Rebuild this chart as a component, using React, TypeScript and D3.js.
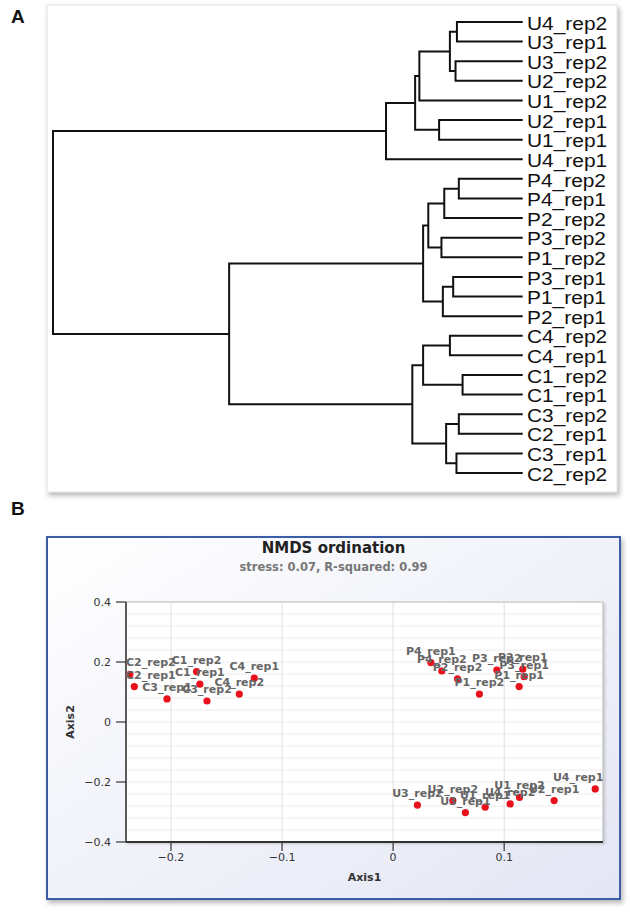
import React from "react";
import * as d3 from "d3";

// ---------- Panel A: hierarchical clustering ----------
const leafOrder = [
  "U4_rep2", "U3_rep1", "U3_rep2", "U2_rep2", "U1_rep2", "U2_rep1", "U1_rep1", "U4_rep1",
  "P4_rep2", "P4_rep1", "P2_rep2", "P3_rep2", "P1_rep2", "P3_rep1", "P1_rep1", "P2_rep1",
  "C4_rep2", "C4_rep1", "C1_rep2", "C1_rep1", "C3_rep2", "C2_rep1", "C3_rep1", "C2_rep2",
];

const mergeIds = ["u1", "u2", "u3", "u4", "u5", "u6", "U", "p1", "p2", "p3", "p4", "p5", "p6", "P", "c1", "c2", "c3", "c4", "c5", "c6", "C", "PC", "root"];
const mergeLeft = ["U4_rep2", "U3_rep2", "u1", "u3", "U2_rep1", "u4", "u6", "P4_rep2", "p1", "P3_rep2", "p2", "P3_rep1", "p5", "p4", "C4_rep2", "C1_rep2", "c1", "C3_rep2", "C3_rep1", "c4", "c3", "P", "U"];
const mergeRight = ["U3_rep1", "U2_rep2", "u2", "U1_rep2", "U1_rep1", "u5", "U4_rep1", "P4_rep1", "P2_rep2", "P1_rep2", "p3", "P1_rep1", "P2_rep1", "p6", "C4_rep1", "C1_rep1", "c2", "C2_rep1", "C2_rep2", "c5", "c6", "C", "PC"];
const mergeHeight = [0.140, 0.143, 0.155, 0.220, 0.178, 0.229, 0.291, 0.136, 0.167, 0.173, 0.201, 0.148, 0.170, 0.212, 0.155, 0.128, 0.212, 0.136, 0.141, 0.163, 0.235, 0.625, 1.0];

// ---------- Panel B: NMDS ordination ----------
const sampleNames = [
  "C2_rep2", "C2_rep1", "C3_rep1", "C1_rep2", "C1_rep1", "C3_rep2", "C4_rep2", "C4_rep1",
  "P4_rep1", "P4_rep2", "P2_rep2", "P1_rep2", "P3_rep2", "P2_rep1", "P3_rep1", "P1_rep1",
  "U3_rep2", "U2_rep2", "U3_rep1", "U1_rep1", "U4_rep2", "U1_rep2", "U2_rep1", "U4_rep1",
];
const axis1 = [
  -0.237, -0.233, -0.2036, -0.177, -0.174, -0.1676, -0.1385, -0.125,
  0.034, 0.0439, 0.058, 0.0777, 0.0934, 0.1168, 0.118, 0.1135,
  0.0219, 0.0538, 0.0651, 0.0829, 0.1054, 0.1138, 0.145, 0.182,
];
const axis2 = [
  0.159, 0.118, 0.077, 0.168, 0.126, 0.070, 0.093, 0.146,
  0.198, 0.170, 0.144, 0.093, 0.173, 0.176, 0.151, 0.118,
  -0.277, -0.262, -0.302, -0.284, -0.273, -0.251, -0.262, -0.223,
];
const xTicks = [-0.2, -0.1, 0, 0.1];
const yTicks = [0.4, 0.2, 0, -0.2, -0.4];
const titleText = "NMDS ordination";
const subtitleText = "stress: 0.07, R-squared: 0.99";

type TNode = { name: string; height: number; children?: TNode[] };

function buildTree(): TNode {
  const map: Record<string, TNode> = {};
  leafOrder.forEach((n) => (map[n] = { name: n, height: 0 }));
  mergeIds.forEach((id, i) => {
    map[id] = { name: id, height: mergeHeight[i], children: [map[mergeLeft[i]], map[mergeRight[i]]] };
  });
  return map["root"];
}

const Dendrogram: React.FC = () => {
  const root = d3.hierarchy<TNode>(buildTree());
  const yLeaf = d3.scalePoint<string>().domain(leafOrder).range([22, 473]);
  const xH = d3.scaleLinear().domain([0, 1]).range([522.7, 53]);
  const py = new Map<any, number>();
  root.eachAfter((n) => {
    py.set(n, n.children ? (d3.mean(n.children, (c) => py.get(c)!) as number) : (yLeaf(n.data.name) as number));
  });
  const paths: string[] = [];
  root.each((n) => {
    if (!n.children) return;
    const [a, b] = n.children;
    paths.push(
      `M${xH(a.data.height)},${py.get(a)}H${xH(n.data.height)}V${py.get(b)}H${xH(b.data.height)}`
    );
  });
  return (
    <g>
      {paths.map((d, i) => (
        <path key={i} d={d} fill="none" stroke="#111" strokeWidth={2} />
      ))}
      {root.leaves().map((l) => (
        <text
          key={l.data.name}
          x={527}
          y={py.get(l)! + 1}
          dominantBaseline="central"
          fontFamily="'Liberation Sans', Arial, sans-serif"
          fontSize={19}
          fill="#111"
          transform={`translate(527,0) scale(1.1,1) translate(-527,0)`}
        >
          {l.data.name}
        </text>
      ))}
    </g>
  );
};

const Scatter: React.FC = () => {
  const x0 = 126, x1 = 603, y0 = 602, y1 = 842;
  const xS = d3.scaleLinear().domain([-0.2405, 0.189]).range([x0, x1]);
  const yS = d3.scaleLinear().domain([-0.4, 0.4]).range([y1, y0]);
  const minor = d3.range(-0.4, 0.4001, 0.04);
  const font = "'DejaVu Sans', Verdana, sans-serif";
  const labelW = (s: string) => s.length * 7.1;
  return (
    <g>
      <rect x={x0} y={y0} width={x1 - x0} height={y1 - y0} fill="#fff" stroke="#c9c9c9" strokeWidth={1} filter="url(#plotShadow)" />
      {minor.map((v, i) => (
        <line key={"h" + i} x1={x0} x2={x1} y1={yS(v)} y2={yS(v)} stroke="#ececec" strokeWidth={1} />
      ))}
      {xTicks.map((v) => (
        <line key={"v" + v} x1={xS(v)} x2={xS(v)} y1={y0} y2={y1} stroke="#e0e0e0" strokeWidth={1} />
      ))}
      <rect x={x0} y={y0} width={x1 - x0} height={y1 - y0} fill="none" stroke="#c9c9c9" strokeWidth={1} />
      {/* axes */}
      <line x1={x0} x2={x0} y1={y0} y2={y1} stroke="#333" strokeWidth={1.5} />
      <line x1={x0} x2={x1} y1={y1} y2={y1} stroke="#333" strokeWidth={2} />
      {yTicks.map((v) => (
        <g key={"yt" + v}>
          <line x1={x0 - 10} x2={x0} y1={yS(v)} y2={yS(v)} stroke="#333" strokeWidth={1.2} />
          <text x={x0 - 15} y={yS(v)} textAnchor="end" dominantBaseline="central" fontFamily={font} fontSize={11} fill="#333">
            {v === 0 ? "0" : d3.format(".1f")(v)}
          </text>
        </g>
      ))}
      {xTicks.map((v) => (
        <g key={"xt" + v}>
          <line x1={xS(v)} x2={xS(v)} y1={y1} y2={y1 + 9} stroke="#333" strokeWidth={1.2} />
          <text x={xS(v)} y={y1 + 15} textAnchor="middle" dominantBaseline="central" fontFamily={font} fontSize={11} fill="#333">
            {v === 0 ? "0" : d3.format(".1f")(v)}
          </text>
        </g>
      ))}
      <text x={(x0 + x1) / 2} y={877} textAnchor="middle" dominantBaseline="central" fontFamily={font} fontSize={11} fontWeight="bold" fill="#333">
        Axis1
      </text>
      <text
        transform={`translate(70,${(y0 + y1) / 2}) rotate(-90)`}
        textAnchor="middle"
        dominantBaseline="central"
        fontFamily={font}
        fontSize={11}
        fontWeight="bold"
        fill="#333"
      >
        Axis2
      </text>
      {sampleNames.map((n, i) => (
        <circle key={"p" + n} cx={xS(axis1[i])} cy={yS(axis2[i])} r={3.6} fill="#e8101a" />
      ))}
      {sampleNames.map((n, i) => {
        const w = labelW(n);
        let cx = xS(axis1[i]);
        cx = Math.max(x0 + w / 2, Math.min(x1 - w / 2, cx));
        return (
          <text key={"l" + n} x={cx} y={yS(axis2[i]) - 11.5} textAnchor="middle" dominantBaseline="central" fontFamily={font} fontSize={11} fontWeight="bold" fill="#666">
            {n}
          </text>
        );
      })}
    </g>
  );
};

export default function App() {
  return (
    <svg width={630} height={917} style={{ position: "absolute", left: 0, top: 0, background: "#fff" }}>
      <defs>
        <filter id="boxShadow" x="-5%" y="-5%" width="110%" height="110%">
          <feDropShadow dx="2" dy="3" stdDeviation="2.5" floodColor="#777" floodOpacity="0.55" />
        </filter>
        <filter id="plotShadow" x="-5%" y="-5%" width="110%" height="110%">
          <feDropShadow dx="1.5" dy="1.5" stdDeviation="1" floodColor="#999" floodOpacity="0.5" />
        </filter>
        <linearGradient id="panelBg" x1="0" y1="0" x2="1" y2="1">
          <stop offset="0" stopColor="#ffffff" />
          <stop offset="1" stopColor="#e3e6f4" />
        </linearGradient>
      </defs>
      {/* Panel A */}
      <text x={11} y={23} fontFamily="'Liberation Sans', Arial, sans-serif" fontWeight="bold" fontSize={19} fill="#111">A</text>
      <rect x={47} y={5} width={570} height={487} fill="#fff" stroke="#e4e4e4" strokeWidth={1} filter="url(#boxShadow)" />
      <Dendrogram />
      {/* Panel B */}
      <text x={11} y={515} fontFamily="'Liberation Sans', Arial, sans-serif" fontWeight="bold" fontSize={19} fill="#111">B</text>
      <rect x={47} y={537} width={573} height={362} fill="url(#panelBg)" stroke="#3a5ca6" strokeWidth={2} filter="url(#boxShadow)" />
      <text x={333.5} y={548} textAnchor="middle" dominantBaseline="central" fontFamily="'DejaVu Sans', Verdana, sans-serif" fontWeight="bold" fontSize={15} fill="#222">
        {titleText}
      </text>
      <text x={333.5} y={567} textAnchor="middle" dominantBaseline="central" fontFamily="'DejaVu Sans', Verdana, sans-serif" fontWeight="bold" fontSize={11.5} fill="#777">
        {subtitleText}
      </text>
      <Scatter />
    </svg>
  );
}
